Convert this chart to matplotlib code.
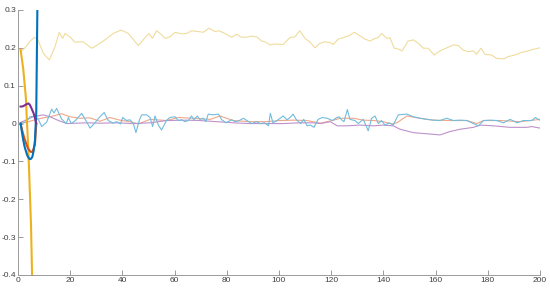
import matplotlib
matplotlib.use('Agg')
import matplotlib.pyplot as plt

plt.rcParams['font.family'] = ['Liberation Sans', 'DejaVu Sans']

# thick lines (first few steps)
x_blue = [1, 1.5, 2, 2.5, 3, 3.5, 4, 4.5, 5, 5.5, 6, 6.5, 7, 7.5]
y_blue = [0, -0.022, -0.043, -0.06, -0.072, -0.083, -0.09, -0.094, -0.093, -0.088, -0.072, -0.045, 0.03, 0.35]

x_orange = [1, 1.5, 2, 2.5, 3, 3.5, 4, 4.5, 5, 5.5, 6, 6.5, 7]
y_orange = [0, -0.015, -0.028, -0.04, -0.05, -0.06, -0.067, -0.072, -0.075, -0.075, -0.066, -0.055, 0.0]

x_yellow = [1, 2, 3, 4, 5, 6]
y_yellow = [0.195, 0.145, 0.07, -0.075, -0.27, -0.6]

x_purple = [1, 1.5, 2, 2.5, 3, 3.5, 4, 4.5, 5, 5.5, 6, 6.5, 7]
y_purple = [0.045, 0.045, 0.046, 0.048, 0.05, 0.052, 0.053, 0.05, 0.043, 0.035, 0.027, 0.015, 0.0]

# thin lines (x, y)
thin_yellow = [(1, 0.19), (2, 0.195), (3, 0.203), (4, 0.212), (5, 0.22), (6.3, 0.228), (7.5, 0.223),
               (9.7, 0.186), (12, 0.168), (14.2, 0.203), (15.8, 0.241), (17.1, 0.225), (18, 0.238),
               (19.9, 0.229), (21.8, 0.215), (25, 0.216), (28.2, 0.199), (30.1, 0.206), (33.3, 0.221),
               (36.5, 0.238), (39.5, 0.247), (42.3, 0.238), (46.1, 0.206), (48.7, 0.227), (50.2, 0.238),
               (51.5, 0.225), (53.1, 0.245), (54.8, 0.236), (56.3, 0.225), (58.2, 0.229), (60.2, 0.241),
               (62.7, 0.237), (64.6, 0.238), (66.6, 0.245), (69.1, 0.243), (71, 0.241), (73.2, 0.252),
               (75.5, 0.243), (77, 0.245), (79.3, 0.238), (81.9, 0.228), (83.8, 0.236), (85.7, 0.228),
               (87.6, 0.228), (89.5, 0.231), (91.5, 0.229), (93.4, 0.218), (94.6, 0.216), (96.6, 0.208),
               (98.5, 0.210), (101.6, 0.209), (104.2, 0.227), (106.1, 0.229), (108, 0.245), (110, 0.225),
               (111.9, 0.215), (113.8, 0.200), (115.7, 0.212), (117.6, 0.216), (119.5, 0.214),
               (120.8, 0.209), (122.7, 0.223), (124.6, 0.227), (126.8, 0.232), (128.9, 0.241),
               (131, 0.232), (133, 0.223), (134.9, 0.218), (136.8, 0.225), (138, 0.227), (139.3, 0.238),
               (141.3, 0.225), (142.5, 0.227), (144.2, 0.199), (145.7, 0.197), (147.2, 0.192),
               (149.5, 0.218), (151.5, 0.221), (153.4, 0.212), (155.3, 0.199), (157.2, 0.199),
               (159.5, 0.181), (161.7, 0.192), (164.3, 0.200), (166.8, 0.208), (168.7, 0.206),
               (170.6, 0.194), (172.5, 0.190), (174.5, 0.192), (175.7, 0.183), (177.4, 0.199),
               (178.9, 0.183), (181.5, 0.181), (183.4, 0.172), (185.3, 0.171), (186.6, 0.172),
               (187.8, 0.177), (190.4, 0.181), (193, 0.188), (195.5, 0.192), (197.4, 0.196), (200, 0.200)]

thin_blue = [(1, 0.0), (3.3, 0.005), (4.6, 0.018), (6.5, 0.02), (7.8, 0.011), (9.1, -0.008), (11, 0.004),
             (12.9, 0.038), (13.8, 0.028), (14.8, 0.04), (16.7, 0.012), (18.5, 0.0), (19.3, 0.016),
             (20.4, 0.0), (22, 0.008), (24.4, 0.027), (26, 0.008), (27.6, -0.012), (29.5, 0.002),
             (31.4, 0.018), (33, 0.029), (34.6, 0.008), (36.5, 0.001), (37.8, 0.005), (39.3, -0.001),
             (40.1, 0.016), (41.6, 0.008), (42.9, 0.01), (44.2, 0.0), (45.2, -0.024), (46.5, 0.009),
             (47.4, 0.023), (49.3, 0.023), (50.6, 0.016), (51.6, -0.008), (52.5, 0.02), (53.8, -0.004),
             (55, -0.017), (57, 0.009), (58.2, 0.016), (60.2, 0.018), (61.4, 0.008), (62.7, 0.01),
             (64, 0.005), (65.3, 0.008), (66.5, 0.02), (67.4, 0.01), (68.7, 0.02), (69.7, 0.011),
             (71, 0.014), (72, 0.005), (72.9, 0.025), (74.9, 0.023), (76.8, 0.025), (78.1, 0.01),
             (79.7, 0.002), (81.9, 0.01), (83.2, 0.005), (84.8, 0.008), (86.4, 0.014), (87.7, 0.008),
             (89.6, 0.0), (91.5, 0.005), (92.8, 0.0), (94.5, 0.002), (96, -0.006), (96.7, 0.027),
             (97.7, 0.002), (99.3, 0.008), (101.6, 0.02), (103.1, 0.01), (104.4, 0.017), (105.4, 0.025),
             (106.7, 0.01), (108.3, 0.0), (109.5, 0.011), (110.8, -0.006), (112.1, -0.004),
             (113.4, -0.01), (115, 0.011), (116.6, 0.016), (118.5, 0.014), (120.5, 0.008),
             (121.7, 0.014), (123, 0.018), (124, 0.01), (124.9, 0.005), (126.2, 0.037), (127.2, 0.011),
             (129.1, 0.008), (130.4, 0.0), (132.3, 0.011), (134.2, -0.019), (135.5, 0.014),
             (136.8, 0.02), (138.1, 0.0), (139.3, 0.008), (140.6, -0.004), (142.3, 0.002),
             (143.8, -0.004), (145.7, 0.023), (149, 0.025), (151.5, 0.018), (154.1, 0.014),
             (156.6, 0.011), (159.2, 0.009), (161.7, 0.008), (164.3, 0.014), (166.8, 0.008),
             (169.4, 0.009), (172, 0.008), (174.5, 0.0), (176.4, -0.006), (178.4, 0.008),
             (180.9, 0.009), (183.5, 0.008), (186, 0.002), (188.6, 0.011), (191.2, 0.002),
             (193.7, 0.008), (196.9, 0.008), (198.2, 0.016), (200, 0.009)]

thin_orange = [(1, 0.0), (3, 0.003), (6.5, 0.01), (9.5, 0.015), (12.3, 0.018), (16.7, 0.026), (19.9, 0.018),
               (23.8, 0.014), (27.6, 0.015), (31.4, 0.006), (35.2, 0.016), (39, 0.009), (42.9, 0.005),
               (46.1, -0.001), (50.6, 0.011), (57, 0.008), (61.4, 0.016), (67.2, 0.014), (73.6, 0.011),
               (77.4, 0.02), (82.5, 0.008), (88.9, 0.005), (95.3, 0.005), (100.4, 0.008), (105.6, 0.009),
               (110.8, 0.008), (115.9, 0.001), (121, 0.009), (123.4, 0.014), (128.5, 0.014),
               (132.3, 0.009), (136.2, 0.008), (140, 0.005), (143.2, -0.001), (145.2, 0.002),
               (149, 0.02), (154.1, 0.014), (159.2, 0.009), (165.6, 0.008), (172, 0.008), (175.8, 0.0),
               (178.4, 0.008), (184.8, 0.008), (192.4, 0.005), (200, 0.011)]

thin_purple = [(1, 0.003), (5.9, 0.018), (9.7, 0.023), (12.3, 0.018), (15.5, 0.008), (18.7, 0.0),
               (22.6, 0.001), (26.4, 0.002), (31.4, 0.001), (37.8, 0.002), (44.2, 0.0), (50.6, 0.002),
               (57, 0.008), (64.7, 0.009), (69.7, 0.008), (76.1, 0.005), (82.5, 0.002), (88.9, 0.0),
               (95.3, 0.0), (101.7, 0.0), (108.1, 0.002), (113.2, 0.002), (115.9, 0.0), (119.7, 0.005),
               (122.3, -0.006), (126, -0.006), (131, -0.004), (136.2, -0.006), (140, -0.004),
               (143.8, -0.006), (146.4, -0.015), (151.5, -0.024), (156.6, -0.027), (161.7, -0.03),
               (165.6, -0.021), (169.4, -0.015), (174.5, -0.01), (177.1, -0.004), (182.2, -0.006),
               (188.6, -0.01), (195, -0.01), (196.9, -0.008), (200, -0.012)]

x_ticks = list(range(0, 201, 20))
y_ticks = [-0.4, -0.3, -0.2, -0.1, 0, 0.1, 0.2, 0.3]
y_labels = ['-0.4', '-0.3', '-0.2', '-0.1', '0', '0.1', '0.2', '0.3']

fig = plt.figure(figsize=(5.5, 2.99), dpi=100)
ax = fig.add_axes([0.0327, 0.0803, 0.949, 0.8863])

for pts, col in [(thin_yellow, '#F0DC9C'), (thin_orange, '#EFA888'),
                 (thin_purple, '#BE92CB'), (thin_blue, '#72BCDD')]:
    xs, ys = zip(*pts)
    ax.plot(xs, ys, color=col, lw=0.8)

ax.plot(x_yellow, y_yellow, color='#EDB120', lw=1.5)
ax.plot(x_orange, y_orange, color='#D95319', lw=1.5)
ax.plot(x_blue, y_blue, color='#0072BD', lw=1.5)
ax.plot(x_purple, y_purple, color='#7E2F8E', lw=1.5)

ax.set_xlim(0, 200)
ax.set_ylim(-0.4, 0.3)
ax.set_xticks(x_ticks)
ax.set_yticks(y_ticks)
ax.set_yticklabels(y_labels)

for s in ['top', 'right']:
    ax.spines[s].set_visible(False)
for s in ['left', 'bottom']:
    ax.spines[s].set_color('#9a9a9a')
    ax.spines[s].set_linewidth(0.7)
ax.tick_params(direction='in', length=3.5, width=0.7, color='#9a9a9a',
               labelsize=6, labelcolor='#404040', pad=1.5)

fig.savefig('out.png', dpi=100)
